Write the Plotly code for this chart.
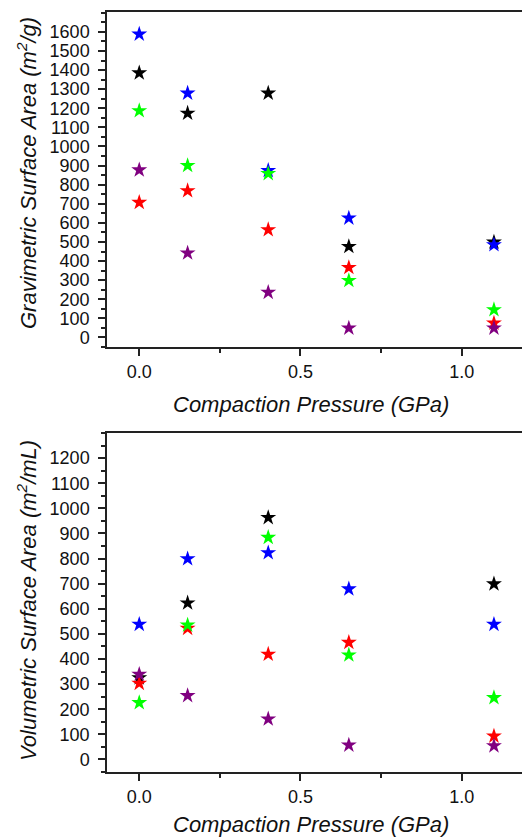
import plotly.graph_objects as go

pressure = [0.0, 0.15, 0.4, 0.65, 1.1]

# Gravimetric surface area (m2/g)
grav_black = [1385, 1174, 1279, 476, 499]
grav_blue = [1588, 1279, 874, 625, 485]
grav_red = [707, 768, 564, 366, 75]
grav_green = [1187, 900, 858, 298, 145]
grav_purple = [877, 442, 236, 49, 49]

# Volumetric surface area (m2/mL)
vol_black = [325, 623, 963, None, 699]
vol_blue = [538, 799, 823, 679, 538]
vol_red = [303, 522, 419, 466, 93]
vol_green = [226, 535, 884, 416, 246]
vol_purple = [339, 254, 161, 57, 54]

colors = {"black": "#000000", "blue": "#0000FF", "red": "#FF0000",
          "green": "#00FF00", "purple": "#800080"}

x_ticks = [0.0, 0.5, 1.0]
x_tick_labels = ["0.0", "0.5", "1.0"]
y_ticks_grav = [0, 100, 200, 300, 400, 500, 600, 700, 800, 900, 1000,
                1100, 1200, 1300, 1400, 1500, 1600]
y_ticks_vol = [0, 100, 200, 300, 400, 500, 600, 700, 800, 900, 1000,
               1100, 1200]

W, H = 522, 837
FONT = "Arial, Liberation Sans, sans-serif"


def px_x(v):
    return v / W


def px_y(v):
    return 1 - v / H


fig = go.Figure()

grav = {"black": grav_black, "blue": grav_blue, "red": grav_red,
        "green": grav_green, "purple": grav_purple}
vol = {"black": vol_black, "blue": vol_blue, "red": vol_red,
       "green": vol_green, "purple": vol_purple}

for name, ys in grav.items():
    fig.add_trace(go.Scatter(x=pressure, y=ys, mode="markers", name=name,
                             marker=dict(symbol="star", size=12, color=colors[name],
                                         line=dict(width=0)),
                             xaxis="x", yaxis="y", showlegend=False))
for name, ys in vol.items():
    fig.add_trace(go.Scatter(x=pressure, y=ys, mode="markers", name=name,
                             marker=dict(symbol="star", size=12, color=colors[name],
                                         line=dict(width=0)),
                             xaxis="x2", yaxis="y2", showlegend=False))

top_dom = [px_y(347), px_y(12)]
bot_dom = [px_y(772), px_y(433)]

axis_common = dict(showline=True, linecolor="#222", linewidth=1.5, showgrid=False,
                   zeroline=False, ticks="outside", ticklen=7, tickwidth=1.5,
                   tickcolor="#222",
                   tickfont=dict(family=FONT, size=18, color="#111"))

minor_y = dict(dtick=50, tick0=0, ticks="outside", ticklen=4,
               tickwidth=1.5, tickcolor="#222")

xcommon = dict(axis_common, range=[-0.1, 1.187], tickvals=x_ticks, ticktext=x_tick_labels,
               mirror=True, domain=[px_x(107), 1.0],
               minor=dict(dtick=0.25, tick0=0, ticks="outside", ticklen=4,
                          tickwidth=1.5, tickcolor="#222"),
               ticklabelstandoff=1)

fig.update_layout(
    width=W, height=H,
    margin=dict(l=0, r=0, t=0, b=0),
    paper_bgcolor="white", plot_bgcolor="white",
    xaxis=dict(xcommon, anchor="y"),
    yaxis=dict(axis_common, range=[-50, 1704], tickvals=y_ticks_grav, domain=top_dom,
               anchor="x", minor=minor_y, ticklabelstandoff=5),
    xaxis2=dict(xcommon, anchor="y2"),
    yaxis2=dict(axis_common, range=[-50, 1300], tickvals=y_ticks_vol, domain=bot_dom,
                anchor="x2", minor=minor_y, ticklabelstandoff=5),
)

title_font = dict(family=FONT, size=22, color="#111")
annos = [
    dict(text="<i>Compaction Pressure (GPa)</i>", x=px_x(311), y=px_y(404)),
    dict(text="<i>Compaction Pressure (GPa)</i>", x=px_x(311), y=px_y(824)),
    dict(text="<i>Gravimetric Surface Area (m<sup>2</sup>/g)</i>", x=px_x(27),
         y=px_y(173), textangle=-90),
    dict(text="<i>Volumetric Surface Area (m<sup>2</sup>/mL)</i>", x=px_x(27),
         y=px_y(601), textangle=-90),
]
for a in annos:
    fig.add_annotation(xref="paper", yref="paper", showarrow=False,
                       xanchor="center", yanchor="middle", font=title_font, **a)

fig.write_html(
    "out.html",
    config={"displayModeBar": False},
    post_script="document.body.style.margin='0';document.body.style.overflow='hidden';",
)
